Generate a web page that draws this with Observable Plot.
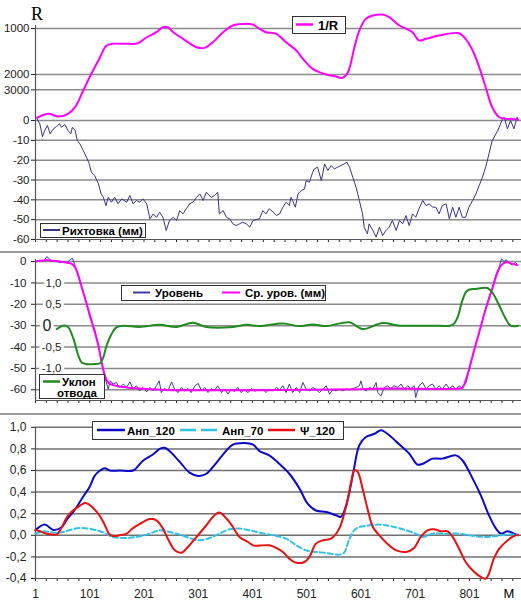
<!DOCTYPE html>
<html><head><meta charset="utf-8">
<script src="https://cdn.jsdelivr.net/npm/d3@7"></script>
<script src="https://cdn.jsdelivr.net/npm/@observablehq/plot@0.6"></script>
<style>
body{margin:0;background:#fff;}
#wrap{position:relative;width:521px;height:604px;overflow:hidden;background:#fff;}
#wrap > div{position:absolute;left:0;}
</style></head><body>
<div id="wrap"><div id="p1" style="top:0"></div><div id="p2" style="top:253px"></div><div id="p3" style="top:415px"></div></div>
<script>
// ---------- Panel 1: Рихтовка (мм) and 1/R ----------
const rihtX = [4,9,14,18,23,28,34,40,45,49,55,61,66,69,74,78,83,89,95,100,104,110,117,122,126,131,135,141,147,153,160,169,175,181,187,193,199,206,212,218,224,230,236,242,248,255,261,267,273,279,285,291,298,304,310,316,325,331,337,340,347,353,359,365,371,377,383,390,396,402,
  414,420,426,432,439,445,451,457,463,469,472,475,480,485,491,497,500,506,512,515,521,528,534,540,546,552,558,564,570,575,580,586,592,598,604,607,613,616,623,629,635,641,647,653,659,666,672,678,684,690,696,702,708,715,721,727,733,739,745,751,758,764,770,776,782,788,794,800,807,813,819,825,831,837,843,850,856,862,865,871,877,883,889,891];
const rihtY = [0.8,-1.7,-8.1,-5.0,-2.5,-6.7,-4.2,-3.0,-1.7,-3.4,-2.0,-5.0,-6.7,-3.4,-5.0,-10.1,-11.8,-15.1,-18.5,-21.8,-26.1,-27.7,-31.9,-37.0,-38.7,-42.9,-38.7,-41.2,-38.7,-42.0,-39.5,-41.2,-37.8,-42.0,-40.3,-41.2,-39.5,-42.0,-49.6,-47.1,-48.8,-46.2,-48.8,-55.5,-50.4,-48.8,-50.4,-45.4,-47.1,-44.5,-42.0,-41.2,-38.7,-37.0,-40.3,-36.2,-38.7,-37.8,-36.2,-47.1,-45.4,-48.8,-49.6,-52.1,-53.0,-52.1,-51.3,-52.1,-53.8,-50.4,
  -49.5,-45.4,-47.1,-44.5,-46.2,-47.9,-47.1,-43.7,-41.2,-42.9,-38.7,-40.3,-43.7,-37.0,-35.3,-34.5,-30.3,-31.1,-26.1,-24.4,-23.5,-30.3,-21.9,-25.2,-22.7,-24.4,-23.5,-22.7,-21.9,-21.0,-23.5,-28.6,-33.6,-40.3,-47.1,-53.8,-57.2,-52.1,-55.5,-58.8,-53.8,-58.0,-55.5,-53.8,-50.4,-55.5,-50.4,-52.1,-47.9,-53.0,-47.1,-48.8,-44.5,-40.3,-42.9,-42.0,-43.7,-43.7,-47.1,-42.9,-42.0,-49.6,-43.7,-48.8,-43.7,-48.8,-48.8,-43.7,-40.3,-37.0,-32.8,-28.6,-23.5,-16.8,-10.1,-6.7,-3.4,0.8,1.7,-4.2,0,-4.2,1.7,0];
// curvature 1000/R (1/km)
const curvX = [4,25,43,61,74,89,104,120,132,144,169,190,206,224,236,245,255,273,298,313,328,347,365,390,402,414,426,445,463,482,494,512,537,555,567,577,589,598,610,623,641,653,672,696,708,721,745,782,794,807,819,831,843,856,868,880,891];
const curvK = [0.03,0.073,0.043,0.073,0.145,0.326,0.508,0.688,0.815,0.834,0.834,0.84,0.905,0.96,1.014,1.014,0.96,0.888,0.797,0.79,0.851,0.96,1.033,1.051,1.043,0.997,0.96,0.942,0.851,0.761,0.671,0.562,0.5,0.478,0.464,0.525,0.797,0.978,1.105,1.141,1.152,1.123,1.033,0.96,0.87,0.888,0.924,0.949,0.888,0.761,0.58,0.362,0.145,0.036,0.018,0.018,0.008];
const rihtTicks = [0,-10,-20,-30,-40,-50,-60];
const radiusTicks = [1000, 2000, 3000];
const curvScale = 46.4; // mm of plot height per unit of 1000/R

// ---------- Panel 2: Уровень, Ср. уров. (мм), Уклон отвода ----------
const lvlX = [2,9,15,22,28,34,40,46,52,58,64,69,74,78,83,89,95,101,106,110,117,123,129,135,139,144,150,156,163,169,175,181,187,193,199,206,212,218,224,229,233,239,245,252,258,264,270,276,282,288,295,301,307,313,319,325,331,337,344,350,356,362,368,374,380,386,393,399,405,414,
  420,426,432,439,445,451,457,463,469,475,482,488,494,500,506,512,518,524,531,537,543,549,555,561,567,574,580,586,592,598,601,605,611,617,623,629,632,638,644,650,656,662,669,675,681,687,693,699,702,708,715,721,727,733,739,745,751,758,764,770,776,782,788,795,801,807,813,819,825,831,837,843,850,856,860,865,869,874,880,886,891];
const lvlY = [0,0.5,0,2.3,0.9,0,0.3,-0.6,0,-0.6,0.6,1.6,-1.9,-5.0,-9.7,-14.4,-19.1,-26.1,-29.2,-31.6,-39.4,-47.2,-54.2,-59.7,-55.8,-57.3,-56.6,-58.9,-57.3,-58.9,-56.3,-59.7,-58.1,-60.5,-58.9,-60.9,-58.9,-60.5,-58.1,-55.8,-61.3,-59.4,-60.5,-56.3,-60.0,-61.3,-58.9,-60.5,-59.4,-61.3,-58.1,-57.0,-60.5,-58.9,-61.3,-59.4,-60.5,-58.1,-61.3,-59.7,-62.0,-59.7,-60.9,-58.9,-61.3,-60.0,-61.3,-59.4,-60.6,-60.0,
  -59.7,-61.3,-59.7,-60.5,-58.9,-60.0,-58.1,-61.3,-57.3,-61.3,-58.9,-61.3,-56.6,-59.7,-60.5,-58.9,-59.7,-61.3,-59.7,-58.1,-62.0,-60.0,-60.5,-59.7,-60.5,-59.7,-60.0,-59.4,-58.9,-58.1,-55.8,-59.7,-60.5,-58.9,-59.7,-56.6,-61.3,-62.8,-58.9,-58.1,-59.4,-58.1,-58.9,-57.3,-59.7,-58.1,-59.4,-58.1,-63.6,-58.1,-56.6,-59.7,-58.1,-57.3,-59.7,-58.1,-59.7,-57.3,-59.4,-58.1,-59.7,-58.1,-59.4,-56.6,-50.0,-44.5,-38.0,-33.5,-27.5,-22.0,-17.0,-12.5,-6.0,-2.5,1.2,0.0,0.8,-0.8,-1.6,-0.5,-1.8];
const avgX = [2,15,28,46,68,74,80,89,98,107,117,123,129,135,144,169,212,273,334,414,598,659,782,788,795,807,819,831,843,853,859,868,880,889];
const avgY = [0,0.5,0.5,0,-1.1,-2.7,-6.6,-14.4,-22.2,-30,-39.4,-47.2,-53.4,-56.6,-57.8,-58.9,-59.7,-60.2,-60.2,-60.2,-59.7,-59.4,-59.4,-58.9,-55.0,-44.1,-33.1,-22.2,-12.8,-5.0,-1.9,-0.3,-1.1,-1.6];
const slopeX = [40,52,61,71,80,86,95,107,120,126,132,141,150,163,193,230,261,291,316,365,390,414,457,488,512,537,580,604,641,672,702,733,770,779,788,797,813,834,843,856,868,877,891];
const slopeV = [-0.08,0,-0.03,-0.31,-0.70,-0.86,-0.9,-0.9,-0.88,-0.74,-0.47,-0.2,-0.04,0,-0.03,0.02,-0.03,0.07,-0.03,-0.03,0.02,-0.01,0.05,-0.01,0.03,-0.01,0.08,-0.08,0.06,0,0,0,0.02,0.19,0.59,0.82,0.86,0.88,0.78,0.47,0.16,0,0];
const levelTicks = [0,-10,-20,-30,-40,-50,-60];
const slopeTicks = [1.0, 0.5, 0, -0.5, -1.0];
const slopeZero = -30, slopeScale = 20; // slope value v is drawn at slopeZero + slopeScale*v

// ---------- Panel 3: Анп_120, Анп_70, Ψ_120 ----------
const a120X = [1,18,34,49,58,74,89,101,110,120,129,138,156,181,190,199,218,230,239,248,267,285,301,316,331,347,365,386,402,414,432,451,469,488,503,518,537,555,564,574,586,598,610,626,638,653,672,690,705,714,733,751,776,788,807,822,837,850,859,871,883,891];
const a120Y = [0.046,0.099,0.05,0.075,0.14,0.24,0.36,0.45,0.55,0.60,0.62,0.60,0.60,0.60,0.64,0.69,0.75,0.80,0.81,0.78,0.68,0.58,0.55,0.57,0.65,0.75,0.84,0.855,0.84,0.78,0.74,0.66,0.57,0.43,0.29,0.23,0.216,0.185,0.17,0.28,0.556,0.834,0.91,0.94,0.973,0.927,0.84,0.757,0.655,0.66,0.71,0.71,0.74,0.695,0.525,0.37,0.185,0.062,0.016,0.037,0.016,0];
const a70X = [1,16,34,46,83,120,144,169,187,206,230,248,267,285,304,322,340,359,377,396,414,439,463,482,500,518,537,561,570,580,592,610,635,653,678,702,715,733,758,782,807,831,850,868,891];
const a70Y = [0.015,0.037,0.025,0.025,0.068,0.037,-0.015,-0.025,-0.015,0.006,0.046,0.031,0.006,-0.025,-0.046,-0.025,0.015,0.056,0.062,0.046,0.025,0,-0.031,-0.093,-0.139,-0.154,-0.164,-0.179,-0.16,-0.031,0.062,0.087,0.099,0.087,0.056,0.015,-0.015,0.015,0.015,0.015,-0.006,-0.015,-0.006,0.006,0.006];
const psiX = [1,9,22,40,49,58,68,83,92,98,114,126,138,144,156,169,178,194,212,224,236,245,258,270,282,298,316,331,340,353,365,377,393,402,414,432,445,457,469,482,497,506,518,531,546,561,574,583,589,595,604,613,623,635,653,666,684,699,711,724,736,748,761,770,782,794,810,822,831,837,846,856,868,880,891];
const psiY = [0.05,0.037,0.015,0.009,0.07,0.16,0.22,0.275,0.30,0.29,0.216,0.124,0.005,-0.006,0.0,0.015,0.056,0.108,0.15,0.139,0.062,-0.031,-0.139,-0.161,-0.108,-0.015,0.093,0.185,0.21,0.155,0.077,-0.015,-0.062,-0.093,-0.095,-0.093,-0.117,-0.154,-0.216,-0.254,-0.247,-0.2,-0.077,-0.046,-0.031,0.062,0.278,0.494,0.603,0.587,0.433,0.247,0.077,0,-0.093,-0.139,-0.154,-0.117,-0.015,0.046,0.056,0.037,0.037,-0.015,-0.124,-0.247,-0.34,-0.386,-0.402,-0.355,-0.216,-0.124,-0.062,-0.015,0.006];
const anpTicks = [-0.4,-0.2,0,0.2,0.4,0.6,0.8,1.0];
const xLabelEvery = 100;

// ---------- helpers ----------
const zip = (xs, ys) => xs.map((x, i) => ({x, y: ys[i]}));
const FONT = "'Liberation Sans', Arial, sans-serif";
const xDomain = [1, 897];
const xTicks = d3.range(1, 897, 20);
const comma = v => v.toFixed(1).replace(".", ",");
const base = (h, mt, mb, fs) => ({
  width: 521, height: h, marginLeft: 35, marginRight: 0, marginTop: mt, marginBottom: mb,
  style: {fontFamily: FONT, fontSize: fs || "11.5px", color: "#222", background: "transparent", overflow: "visible"}
});

// Panel 1
const p1Ticks = [...rihtTicks, ...radiusTicks.map(r => curvScale * 1000 / r)];
const p1Label = new Map([...rihtTicks.map(v => [v, String(v)]), ...radiusTicks.map(r => [curvScale * 1000 / r, String(r)])]);
const plot1 = Plot.plot({
  ...base(251, 8, 12),
  x: {domain: xDomain, ticks: xTicks, tickSize: 3, tickFormat: () => "", label: null},
  y: {domain: [-60, 56.5], ticks: p1Ticks, tickSize: 4, tickPadding: 2, tickFormat: d => p1Label.get(d), label: null},
  marks: [
    Plot.ruleY(p1Ticks.filter(v => v !== -60), {stroke: "#8a8a8a", strokeWidth: 1.5}),
    Plot.ruleY([-60], {stroke: "#555", strokeWidth: 1.2}),
    Plot.ruleX([1], {y1: -60, y2: 48, stroke: "#555", strokeWidth: 1.2}),
    Plot.line(zip(rihtX, rihtY), {x: "x", y: "y", stroke: "#33338a", strokeWidth: 1}),
    Plot.line(zip(curvX, curvK), {x: "x", y: d => d.y * curvScale, stroke: "#ff00ff", strokeWidth: 2, curve: "catmull-rom"})
  ]
});
document.getElementById("p1").appendChild(plot1);

// Panel 2
const plot2 = Plot.plot({
  ...base(160, 0, 13),
  x: {domain: xDomain, ticks: xTicks, tickSize: 3, tickFormat: () => "", label: null},
  y: {domain: [-65, 3.75], ticks: levelTicks, tickSize: 4, tickPadding: 5, tickFormat: d => String(d), label: null},
  marks: [
    Plot.ruleY(levelTicks, {stroke: "#8a8a8a", strokeWidth: 1.5}),
    Plot.ruleY([-65], {stroke: "#555", strokeWidth: 1.2}),
    Plot.ruleX([1], {y1: -65, y2: 1, stroke: "#555", strokeWidth: 1.2}),
    Plot.text(slopeTicks.filter(v => v !== 0), {y: v => slopeZero + slopeScale * v, frameAnchor: "left", dx: 26, textAnchor: "end",
      text: comma, fill: "#222", stroke: "white", strokeWidth: 6, fontSize: 11.5}),
    Plot.text([0], {y: v => slopeZero + slopeScale * v, frameAnchor: "left", dx: 16, textAnchor: "end",
      text: () => "0", fill: "#222", stroke: "white", strokeWidth: 6, fontSize: 16}),
    Plot.line(zip(lvlX, lvlY), {x: "x", y: "y", stroke: "#3c3ca0", strokeWidth: 1}),
    Plot.line(zip(avgX, avgY), {x: "x", y: "y", stroke: "#ff00ff", strokeWidth: 2, curve: "catmull-rom"}),
    Plot.line(zip(slopeX, slopeV), {x: "x", y: d => slopeZero + slopeScale * d.y, stroke: "#1f8a1f", strokeWidth: 2, curve: "catmull-rom"})
  ]
});
document.getElementById("p2").appendChild(plot2);

// Panel 3
const plot3 = Plot.plot({
  ...base(189, 1, 26, "12px"),
  x: {domain: xDomain, ticks: xTicks, tickSize: 3, tickPadding: 8, tickFormat: d => ((d - 1) % xLabelEvery === 0 ? String(d) : ""), label: null},
  y: {domain: [-0.4, 1.1], ticks: anpTicks, tickSize: 4, tickPadding: 5, tickFormat: comma, label: null},
  marks: [
    Plot.ruleY(anpTicks.filter(v => v !== -0.4), {stroke: "#707070", strokeWidth: 1.5}),
    Plot.ruleY([-0.4], {stroke: "#555", strokeWidth: 1.2}),
    Plot.ruleX([1], {y1: -0.4, y2: 1.0, stroke: "#555", strokeWidth: 1.2}),
    Plot.line(zip(a120X, a120Y), {x: "x", y: "y", stroke: "#0a0ac8", strokeWidth: 2, curve: "catmull-rom"}),
    Plot.line(zip(a70X, a70Y), {x: "x", y: "y", stroke: "#30c0e8", strokeWidth: 2, strokeDasharray: "5,3", curve: "catmull-rom"}),
    Plot.line(zip(psiX, psiY), {x: "x", y: "y", stroke: "#e81010", strokeWidth: 2, curve: "catmull-rom"})
  ]
});
document.getElementById("p3").appendChild(plot3);

// ---------- overlay: separators, legends, axis titles ----------
const ov = d3.select("#wrap").append("svg")
  .attr("width", 521).attr("height", 604)
  .style("position", "absolute").style("left", 0).style("top", 0)
  .style("font-family", FONT);
ov.append("rect").attr("x", 0).attr("y", 251).attr("width", 521).attr("height", 2).attr("fill", "#9a9a9a");
ov.append("rect").attr("x", 0).attr("y", 413).attr("width", 521).attr("height", 2).attr("fill", "#9a9a9a");
function box(x, y, w, h) {
  ov.append("rect").attr("x", x + 0.5).attr("y", y + 0.5).attr("width", w).attr("height", h)
    .attr("fill", "#fff").attr("stroke", "#333").attr("stroke-width", 1);
}
function swatch(x1, x2, y, color, w, dash) {
  const l = ov.append("line").attr("x1", x1).attr("x2", x2).attr("y1", y).attr("y2", y)
    .attr("stroke", color).attr("stroke-width", w);
  if (dash) l.attr("stroke-dasharray", dash);
}
function label(x, y, text, size, opts = {}) {
  ov.append("text").attr("x", x).attr("y", y).attr("dy", "0.35em")
    .attr("font-size", size).attr("font-weight", opts.weight || "bold")
    .attr("font-family", opts.family || FONT).attr("text-anchor", opts.anchor || "start")
    .attr("fill", "#000").text(text);
}
// Panel 1 legends
box(292, 16, 53, 17);
swatch(296, 313, 24.5, "#ff00ff", 2.5);
label(318, 25, "1/R", 13);
box(40, 223, 105, 14);
swatch(43, 60, 230, "#33338a", 2);
label(62, 230.5, "Рихтовка (мм)", 11.5);
label(37, 14, "R", 18, {weight: "normal", family: "'Liberation Serif', 'DejaVu Serif', serif", anchor: "middle"});
// Panel 2 legends
box(121, 285, 204, 15);
swatch(133, 150, 292.5, "#3c3ca0", 2);
label(155, 293, "Уровень", 11.5);
swatch(222, 240, 292.5, "#ff00ff", 2);
label(245, 293, "Ср. уров. (мм)", 11.5);
box(39, 374, 65, 24);
swatch(43, 60, 381.5, "#1f8a1f", 2.5);
label(62, 382, "Уклон", 11.5);
label(57, 392.5, "отвода", 11.5);
// Panel 3 legend
box(92, 421, 251, 18);
swatch(97, 125, 430, "#0a0ac8", 2.5);
label(127, 430.5, "Анп_120", 11.5);
swatch(180, 218, 430, "#30c0e8", 2.5, "16,5");
label(222, 430.5, "Анп_70", 11.5);
swatch(268, 295, 430, "#e81010", 2.5);
label(300, 430.5, "Ψ_120", 11.5);
label(509, 593, "М", 13, {weight: "normal", anchor: "middle"});
</script></body></html>
